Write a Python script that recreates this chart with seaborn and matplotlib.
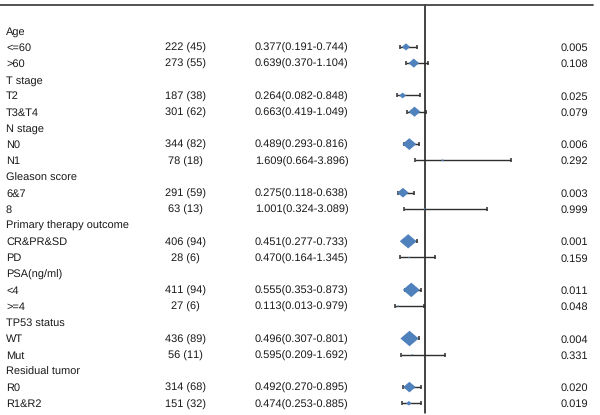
import numpy as np
import pandas as pd
import matplotlib
matplotlib.use("Agg")
import matplotlib.pyplot as plt
import matplotlib.transforms as mtransforms
import seaborn as sns

sns.set_theme(style="white")
plt.rcParams["font.family"] = ["Liberation Sans", "DejaVu Sans"]
plt.rcParams["text.hinting"] = "no_hinting"
plt.rcParams["text.hinting_factor"] = 1

# ---------------- data ----------------
groups = ["Age", "T stage", "N stage", "Gleason score", "Primary therapy outcome",
          "PSA(ng/ml)", "TP53 status", "Residual tumor"]
levels = [["<=60", ">60"], ["T2", "T3&T4"], ["N0", "N1"], ["6&7", "8"],
          ["CR&PR&SD", "PD"], ["<4", ">=4"], ["WT", "Mut"], ["R0", "R1&R2"]]
counts = [222, 273, 187, 301, 344, 78, 291, 63, 406, 28, 411, 27, 436, 56, 314, 151]
percents = [45, 55, 38, 62, 82, 18, 59, 13, 94, 6, 94, 6, 89, 11, 68, 32]
hr = [0.377, 0.639, 0.264, 0.663, 0.489, 1.609, 0.275, 1.001,
      0.451, 0.470, 0.555, 0.113, 0.496, 0.595, 0.492, 0.474]
ci_low = [0.191, 0.370, 0.082, 0.419, 0.293, 0.664, 0.118, 0.324,
          0.277, 0.164, 0.353, 0.013, 0.307, 0.209, 0.270, 0.253]
ci_high = [0.744, 1.104, 0.848, 1.049, 0.816, 3.896, 0.638, 3.089,
           0.733, 1.345, 0.873, 0.979, 0.801, 1.692, 0.895, 0.885]
p_values = [0.005, 0.108, 0.025, 0.079, 0.006, 0.292, 0.003, 0.999,
            0.001, 0.159, 0.011, 0.048, 0.004, 0.331, 0.020, 0.019]

# ---------------- table ----------------
rows = []
k = 0
for g, (name, lv) in enumerate(zip(groups, levels)):
    for j, lab in enumerate(lv):
        rows.append(dict(group=name, label=lab, row=3 * g + 1 + j,
                         n=counts[k], pct=percents[k], hr=hr[k],
                         lo=ci_low[k], hi=ci_high[k], p=p_values[k]))
        k += 1
df = pd.DataFrame(rows)

# box size grows with the number of patients
w_px = np.maximum(17.5 * (df["n"] / 420.0) ** 1.15, 1.8)
df["area"] = (0.72 * w_px) ** 2

# ---------------- figure ----------------
W, H = 600, 415
fig = plt.figure(figsize=(W / 100, H / 100), dpi=100)
ax = fig.add_axes([0, 0, 1, 1])

PX = 29.7      # pixels per HR unit
X1 = 424.5     # pixel position of HR = 1
ROW0, DY = 30.7, 16.2

ax.errorbar(df["hr"], df["row"],
            xerr=[df["hr"] - df["lo"], df["hi"] - df["hr"]],
            fmt="none", ecolor="#2e2e2e", elinewidth=1.0,
            capsize=1.6, capthick=1.1, zorder=2)

diamond = [(-1, 0), (0, 0.85), (1, 0), (0, -0.85), (-1, 0)]
amin, amax = df["area"].min(), df["area"].max()
sns.scatterplot(data=df, x="hr", y="row", size="area",
                sizes=(amin, amax), size_norm=(amin, amax),
                marker=diamond, color="#4F81BD", linewidth=0,
                legend=False, ax=ax, zorder=3)

ax.set_xlim(1 - X1 / PX, 1 + (W - X1) / PX)
ax.set_ylim((H - ROW0) / DY, -ROW0 / DY)
ax.axis("off")

# reference lines
ax.axvline(1, ymin=(H - 412.7) / H, ymax=(H - 5) / H, color="#111111", lw=1.1, zorder=1)
ax.axhline((5 - ROW0) / DY, xmin=0, xmax=592.5 / W, color="#444444", lw=1.3)

# text columns
trans = mtransforms.blended_transform_factory(ax.transAxes, ax.transData)
tkw = dict(transform=trans, va="center_baseline", fontsize=7.7, color="#1a1a1a")
for g, name in enumerate(groups):
    ax.text(6 / W, 3 * g, name, ha="left", **tkw)
for _, r in df.iterrows():
    ax.text(6 / W, r["row"], r["label"], ha="left", **tkw)
    ax.text(185.5 / W, r["row"], f"{r['n']} ({r['pct']})", ha="center", **tkw)
    ax.text(255 / W, r["row"], f"{r['hr']:.3f}({r['lo']:.3f}-{r['hi']:.3f})", ha="left", **tkw)
    ax.text(588 / W, r["row"], f"{r['p']:.3f}", ha="right", **tkw)

fig.savefig("out.png", dpi=100)
